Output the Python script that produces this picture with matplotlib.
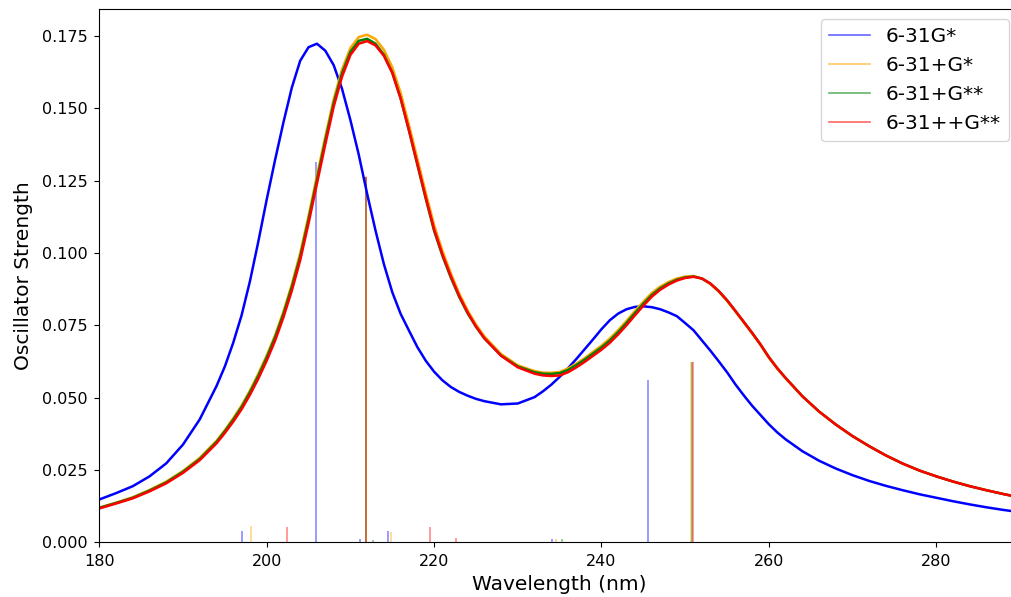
import matplotlib
matplotlib.use("Agg")
import matplotlib.pyplot as plt
from matplotlib.lines import Line2D

# ---- data ----
wavelength = [180, 182, 184, 186, 188, 190, 192, 194,
              195, 196, 197, 198, 199, 200, 201, 202, 203, 204, 205, 206, 207, 208,
              209, 210, 211, 212, 213, 214, 215, 216, 217, 218, 219, 220, 221, 222,
              223, 224, 225, 226,
              228, 230, 232,
              233, 234, 235, 236, 237, 238, 239, 240, 241, 242, 243, 244, 245, 246,
              247, 248, 249, 250, 251, 252, 253, 254, 255, 256, 257, 258, 259, 260,
              261, 262,
              264, 266, 268, 270, 272, 274, 276, 278, 280, 282, 284, 286, 288, 290]

spec_631gs = [0.0148, 0.0170, 0.0194, 0.0228, 0.0273, 0.0338, 0.0425, 0.0540,
              0.0608, 0.0690, 0.0785, 0.0903, 0.1040, 0.1185, 0.1322, 0.1452, 0.1572,
              0.1665, 0.1712, 0.1724, 0.1700, 0.1650, 0.1568, 0.1460, 0.1340, 0.1205,
              0.1078, 0.0962, 0.0865, 0.0790, 0.0732, 0.0675, 0.0628, 0.0590, 0.0560,
              0.0537, 0.0520, 0.0507, 0.0496, 0.0488,
              0.0477, 0.0480, 0.0502,
              0.0522, 0.0545, 0.0572, 0.0602, 0.0634, 0.0668, 0.0702, 0.0737, 0.0768,
              0.0791, 0.0806, 0.0814, 0.0816, 0.0813, 0.0806, 0.0795, 0.0782, 0.0758,
              0.0733, 0.0698, 0.0663, 0.0626, 0.0588, 0.0546, 0.0508, 0.0472, 0.0440,
              0.0408, 0.0380, 0.0356,
              0.0315, 0.0282, 0.0255, 0.0232, 0.0212, 0.0195, 0.0180, 0.0166, 0.0154,
              0.0142, 0.0131, 0.0121, 0.0112, 0.0104]

spec_631pgs = [0.0120, 0.0137, 0.0156, 0.0181, 0.0210, 0.0247, 0.0292, 0.0351,
               0.0388, 0.0429, 0.0473, 0.0525, 0.0583, 0.0646, 0.0716, 0.0798, 0.0892,
               0.1000, 0.1129, 0.1267, 0.1403, 0.1532, 0.1635, 0.1709, 0.1747, 0.1755,
               0.1740, 0.1703, 0.1643, 0.1554, 0.1443, 0.1326, 0.1209, 0.1097, 0.1007,
               0.0930, 0.0860, 0.0802, 0.0753, 0.0712,
               0.0651, 0.0612, 0.0592,
               0.0587, 0.0586, 0.0589, 0.0601, 0.0618, 0.0637, 0.0659, 0.0680, 0.0705,
               0.0734, 0.0766, 0.0800, 0.0832, 0.0862, 0.0884, 0.0900, 0.0912, 0.0919,
               0.0921, 0.0912, 0.0893, 0.0867, 0.0835, 0.0798, 0.0760, 0.0722, 0.0682,
               0.0638, 0.0600, 0.0567,
               0.0505, 0.0452, 0.0407, 0.0367, 0.0332, 0.0300, 0.0272, 0.0248, 0.0228,
               0.0210, 0.0194, 0.0180, 0.0167, 0.0155]

spec_631pgss = [0.0119, 0.0136, 0.0154, 0.0179, 0.0207, 0.0244, 0.0288, 0.0347,
                0.0384, 0.0424, 0.0468, 0.0519, 0.0576, 0.0639, 0.0709, 0.0790, 0.0883,
                0.0988, 0.1117, 0.1254, 0.1390, 0.1519, 0.1622, 0.1696, 0.1734, 0.1741,
                0.1724, 0.1686, 0.1625, 0.1535, 0.1423, 0.1305, 0.1188, 0.1077, 0.0990,
                0.0915, 0.0848, 0.0792, 0.0745, 0.0705,
                0.0646, 0.0608, 0.0588,
                0.0583, 0.0582, 0.0585, 0.0596, 0.0613, 0.0632, 0.0653, 0.0674, 0.0698,
                0.0727, 0.0759, 0.0793, 0.0825, 0.0855, 0.0878, 0.0895, 0.0908, 0.0916,
                0.0919, 0.0912, 0.0895, 0.0869, 0.0837, 0.0800, 0.0762, 0.0724, 0.0684,
                0.0640, 0.0602, 0.0568,
                0.0505, 0.0452, 0.0407, 0.0367, 0.0332, 0.0300, 0.0272, 0.0248, 0.0228,
                0.0210, 0.0194, 0.0180, 0.0167, 0.0155]

spec_631ppgss = [0.0117, 0.0134, 0.0152, 0.0176, 0.0204, 0.0240, 0.0284, 0.0342,
                 0.0378, 0.0417, 0.0460, 0.0510, 0.0566, 0.0628, 0.0697, 0.0778, 0.0870,
                 0.0975, 0.1103, 0.1240, 0.1376, 0.1506, 0.1610, 0.1685, 0.1724, 0.1733,
                 0.1718, 0.1682, 0.1623, 0.1535, 0.1425, 0.1309, 0.1193, 0.1082, 0.0995,
                 0.0920, 0.0852, 0.0795, 0.0747, 0.0706,
                 0.0645, 0.0605, 0.0583,
                 0.0577, 0.0575, 0.0577, 0.0588, 0.0605, 0.0624, 0.0645, 0.0666, 0.0690,
                 0.0719, 0.0751, 0.0785, 0.0818, 0.0849, 0.0873, 0.0891, 0.0905, 0.0914,
                 0.0918, 0.0912, 0.0895, 0.0869, 0.0837, 0.0800, 0.0762, 0.0724, 0.0684,
                 0.0640, 0.0602, 0.0568,
                 0.0505, 0.0452, 0.0407, 0.0367, 0.0332, 0.0300, 0.0272, 0.0248, 0.0228,
                 0.0210, 0.0194, 0.0180, 0.0167, 0.0155]

# stick transitions (wavelength, oscillator strength)
sticks_631gs_wl = [197.05, 205.85, 211.15, 214.5, 234.05, 245.6]
sticks_631gs_f = [0.0040, 0.1315, 0.0010, 0.0040, 0.0013, 0.0561]
sticks_631pgs_wl = [198.1, 211.9, 214.9, 234.6, 250.65]
sticks_631pgs_f = [0.0058, 0.1265, 0.0035, 0.0012, 0.0624]
sticks_631pgss_wl = [211.9, 212.75, 235.25, 250.8]
sticks_631pgss_f = [0.1263, 0.0008, 0.0012, 0.0622]
sticks_631ppgss_wl = [202.4, 211.85, 219.5, 222.6, 250.95]
sticks_631ppgss_f = [0.0054, 0.1263, 0.0054, 0.0015, 0.0622]

labels = ["6-31G*", "6-31+G*", "6-31+G**", "6-31++G**"]
colors = ["blue", "orange", "green", "red"]
yticks = [0.0, 0.025, 0.05, 0.075, 0.1, 0.125, 0.15, 0.175]
xticks = [180, 200, 220, 240, 260, 280]

# ---- figure ----
W, H = 1011, 597
fig = plt.figure(figsize=(W / 100, H / 100), dpi=100)
ax = fig.add_axes([99.3 / W, (H - 542.3) / H, 920.7 / W, (542.3 - 9.3) / H])

specs = [spec_631gs, spec_631pgs, spec_631pgss, spec_631ppgss]
stick_wl = [sticks_631gs_wl, sticks_631pgs_wl, sticks_631pgss_wl, sticks_631ppgss_wl]
stick_f = [sticks_631gs_f, sticks_631pgs_f, sticks_631pgss_f, sticks_631ppgss_f]

for wl, f, c in zip(stick_wl, stick_f, colors):
    ax.vlines(wl, 0, f, colors=c, alpha=0.5, linewidth=1.1)

for s, c in zip(specs, colors):
    ax.plot(wavelength, s, color=c, linewidth=1.8, solid_joinstyle="round")

ax.set_xlim(180, 290)
ax.set_ylim(0, 0.1843)
ax.set_xticks(xticks)
ax.set_yticks(yticks)
ax.set_yticklabels([f"{v:.3f}" for v in yticks])
ax.tick_params(labelsize=11.5, pad=5)
ax.set_xlabel("Wavelength (nm)", fontsize=14.5, labelpad=4)
ax.set_ylabel("Oscillator Strength", fontsize=14.5, labelpad=6)

handles = [Line2D([0], [0], color=c, alpha=0.6, linewidth=1.2) for c in colors]
fig.legend(handles, labels, loc="upper right", bbox_to_anchor=(1009 / W, 1 - 19 / H),
           borderaxespad=0.0, fontsize=14.5)

fig.savefig("out.png", dpi=100)
